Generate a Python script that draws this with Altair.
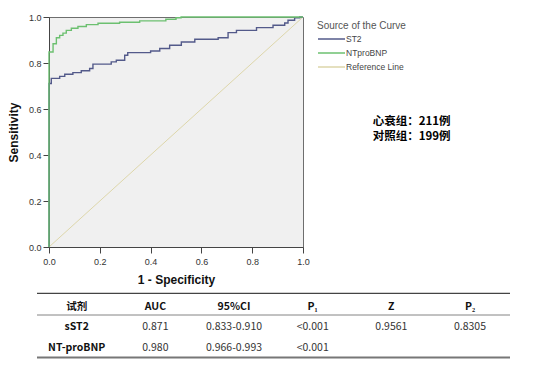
import altair as alt
import pandas as pd

# ---------------- data ----------------
series_names = ["ST2", "NTproBNP", "Reference Line"]
series_colors = ["#535a8a", "#6cc070", "#ddd6aa"]

st2_fpr = [0.0, 0.0, 0.009, 0.042, 0.062, 0.094, 0.127, 0.160, 0.173, 0.245,
           0.265, 0.298, 0.310, 0.400, 0.436, 0.475, 0.521, 0.574, 0.666, 0.705,
           0.738, 0.817, 0.882, 0.928, 0.941, 0.967, 0.987, 1.0]
st2_tpr = [0.0, 0.711, 0.733, 0.742, 0.751, 0.758, 0.766, 0.776, 0.795, 0.805,
           0.812, 0.834, 0.845, 0.852, 0.863, 0.877, 0.891, 0.903, 0.910, 0.932,
           0.942, 0.954, 0.964, 0.974, 0.986, 0.996, 1.0, 1.0]

nt_fpr = [0.0, 0.0, 0.012, 0.016, 0.029, 0.042, 0.055, 0.068, 0.088, 0.114,
          0.147, 0.193, 0.278, 0.357, 0.460, 0.500, 0.520, 1.0]
nt_tpr = [0.0, 0.848, 0.848, 0.884, 0.910, 0.920, 0.930, 0.942, 0.951, 0.959,
          0.967, 0.973, 0.977, 0.983, 0.990, 0.997, 1.0, 1.0]

ref_fpr = [0.0, 1.0]
ref_tpr = [0.0, 1.0]

axis_ticks = [0.0, 0.2, 0.4, 0.6, 0.8, 1.0]

annot_lines = ["心衰组：211例", "对照组：199例"]

table_header = ["试剂", "AUC", "95%CI", "P₁", "Z", "P₂"]
table_rows = ["sST2", "NT-proBNP"]
sst2_values = ["0.871", "0.833-0.910", "<0.001", "0.9561", "0.8305"]
nt_values = ["0.980", "0.966-0.993", "<0.001", "", ""]

# ---------------- frames ----------------
def series_df(name, xs, ys):
    return pd.DataFrame({"series": name, "fpr": xs, "tpr": ys, "idx": list(range(len(xs)))})

st2_df = series_df("ST2", st2_fpr, st2_tpr)
nt_df = series_df("NTproBNP", nt_fpr, nt_tpr)
ref_df = series_df("Reference Line", ref_fpr, ref_tpr)

head_df = pd.DataFrame({"col": table_header, "row": "head", "txt": table_header})
label_df = pd.DataFrame({"col": table_header[0], "row": table_rows, "txt": table_rows})
body_df = pd.DataFrame({
    "col": table_header[1:] * 2,
    "row": [table_rows[0]] * 5 + [table_rows[1]] * 5,
    "txt": sst2_values + nt_values,
})
annot_df = pd.DataFrame({"line": list(range(len(annot_lines))), "txt": annot_lines})

# ---------------- encodings ----------------
FONT = "Liberation Sans"
CJK = "Noto Sans CJK SC"

x_enc = alt.X("fpr:Q", scale=alt.Scale(domain=[0, 1], nice=False),
              axis=alt.Axis(values=axis_ticks, format=".1f", title="1 - Specificity",
                            labelFlush=False, labelPadding=4, titlePadding=8))
y_enc = alt.Y("tpr:Q", scale=alt.Scale(domain=[0, 1], nice=False),
              axis=alt.Axis(values=axis_ticks, format=".1f", title="Sensitivity",
                            labelFlush=False, labelPadding=2, titlePadding=8))
color_enc = alt.Color("series:N",
                      scale=alt.Scale(domain=series_names, range=series_colors),
                      legend=alt.Legend(orient="none", legendX=268, legendY=4,
                                        title="Source of the Curve", titleFont=FONT,
                                        titleFontSize=10, titleFontWeight="normal",
                                        titleColor="#555", titlePadding=1,
                                        labelFont=FONT, labelFontSize=8.5, labelColor="#444",
                                        labelOffset=0, symbolType="stroke", symbolSize=729,
                                        symbolStrokeWidth=1.3, clipHeight=14, rowPadding=0,
                                        padding=0))

ref_layer = alt.Chart(ref_df).mark_line(strokeWidth=1).encode(
    x=x_enc, y=y_enc, color=color_enc, order="idx:Q")
st2_layer = alt.Chart(st2_df).mark_line(interpolate="step-after", strokeWidth=1.4).encode(
    x=x_enc, y=y_enc, color=color_enc, order="idx:Q")
nt_layer = alt.Chart(nt_df).mark_line(interpolate="step-after", strokeWidth=1.4).encode(
    x=x_enc, y=y_enc, color=color_enc, order="idx:Q")

plot = alt.layer(ref_layer, st2_layer, nt_layer)

tx = alt.X("col:N", scale=alt.Scale(type="point", domain=table_header, range=[27.7, 421], padding=0), axis=None)
ty = alt.Y("row:N", scale=alt.Scale(type="point", domain=["head"] + table_rows, range=[289.7, 331], padding=0), axis=None)

one = pd.DataFrame({"a": [0]})
rule_top = alt.Chart(one).mark_rule(color="#444", strokeWidth=1.3).encode(
    x=alt.value(-12), x2=alt.value(461), y=alt.value(276.3))
rule_mid = alt.Chart(one).mark_rule(color="#666", strokeWidth=0.8).encode(
    x=alt.value(-12), x2=alt.value(461), y=alt.value(298))
rule_bot = alt.Chart(one).mark_rule(color="#777", strokeWidth=2).encode(
    x=alt.value(-12), x2=alt.value(461), y=alt.value(340.5))

head_text = alt.Chart(head_df).mark_text(font=CJK, fontSize=10.5, fontWeight="bold", color="#111").encode(
    x=tx, y=ty, text="txt:N")
label_text = alt.Chart(label_df).mark_text(font=CJK, fontSize=10.5, fontWeight="bold", color="#111").encode(
    x=tx, y=ty, text="txt:N")
body_text = alt.Chart(body_df).mark_text(font=CJK, fontSize=10.5, color="#333").encode(
    x=tx, y=ty, text="txt:N")

annot_y = alt.Y("line:O", scale=alt.Scale(type="point", domain=[0, 1], range=[105.2, 120.2], padding=0), axis=None)
annot = alt.Chart(annot_df).mark_text(font=CJK, fontSize=11.5, fontWeight="bold",
                                      color="#000", align="left", baseline="middle").encode(
    x=alt.value(323.7), y=annot_y, text="txt:N")

table = alt.layer(rule_top, rule_mid, rule_bot, head_text, label_text, body_text)

chart = alt.layer(plot, table, annot).resolve_scale(x="independent", y="independent").properties(
    width=254, height=230,
    autosize=alt.AutoSizeParams(type="none"),
    padding={"left": 41, "top": 9, "right": 242, "bottom": 112},
    background="white",
).configure_view(
    fill="#f0f0f0", stroke="#6e6e6e", strokeWidth=1
).configure_axis(
    grid=False, labelFont=FONT, labelFontSize=9, labelColor="#333",
    tickColor="#444", domainColor="#444", tickSize=6,
    titleFont=FONT, titleFontSize=12, titleFontWeight="bold", titleColor="#111"
)

chart.save("out.html", embed_options={"renderer": "svg", "actions": False})
